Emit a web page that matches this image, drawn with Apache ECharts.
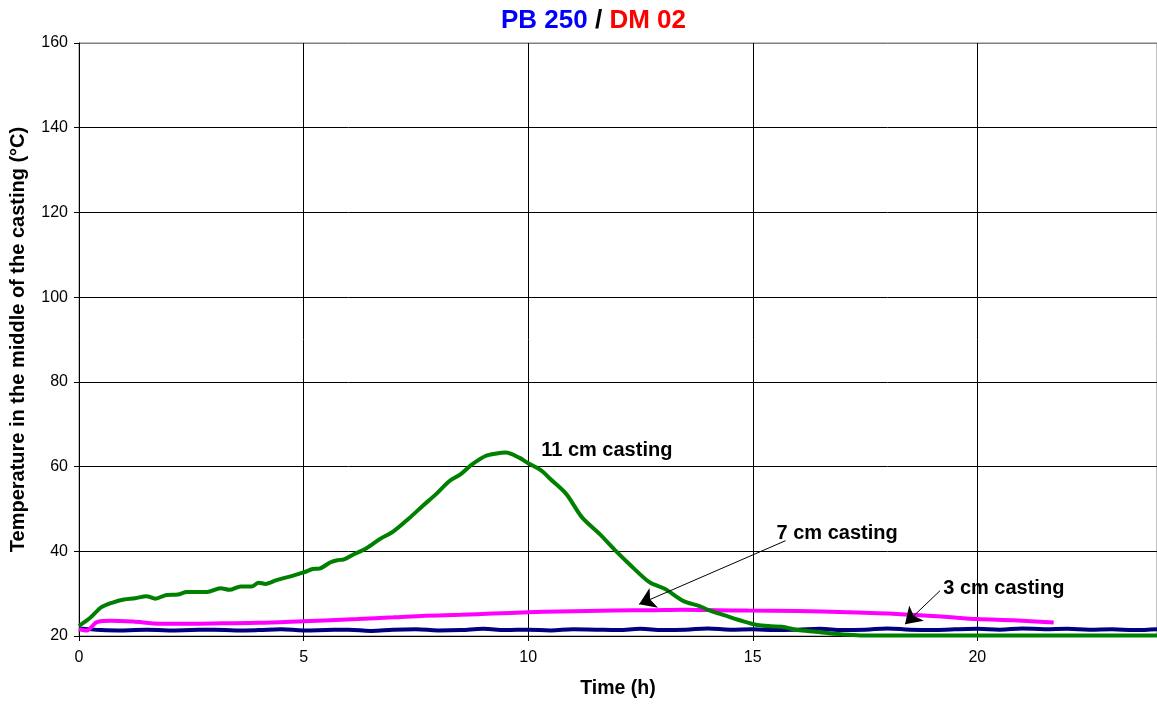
<!DOCTYPE html>
<html>
<head>
<meta charset="utf-8">
<style>
    html, body { margin: 0; padding: 0; background: #fff; }
    #main { width: 1157px; height: 704px; }
</style>
<script src="https://cdn.jsdelivr.net/npm/echarts@6/dist/echarts.min.js"></script>
</head>
<body>
<div id="main"></div>
<script>
    // 11 cm casting  [time h, temperature °C]
    var green11 = [
        [0, 22.4], [0.25, 24.3], [0.5, 26.8], [0.75, 27.9], [1.0, 28.6], [1.25, 28.9], [1.5, 29.4],
        [1.7, 28.8], [1.95, 29.7], [2.2, 29.8], [2.4, 30.4], [2.85, 30.4], [3.15, 31.3], [3.35, 30.9],
        [3.6, 31.7], [3.85, 31.7], [4.0, 32.6], [4.15, 32.3], [4.4, 33.2], [4.75, 34.2], [5.0, 35.0],
        [5.2, 35.8], [5.35, 35.9], [5.6, 37.4], [5.75, 37.9], [5.9, 38.1], [6.1, 39.2], [6.4, 40.7],
        [6.7, 42.9], [7.0, 44.7], [7.35, 47.8], [7.65, 50.7], [7.95, 53.5], [8.25, 56.6], [8.5, 58.2],
        [8.75, 60.5], [9.05, 62.5], [9.3, 63.1], [9.5, 63.3], [9.8, 62.1], [10.0, 60.8], [10.3, 59.0],
        [10.5, 57.0], [10.85, 53.5], [11.2, 48.0], [11.6, 44.0], [11.95, 40.1], [12.25, 37.0],
        [12.7, 32.7], [13.05, 31.1], [13.45, 28.3], [13.8, 27.1], [14.05, 26.0], [14.4, 24.8],
        [14.75, 23.6], [15.1, 22.6], [15.4, 22.3], [15.65, 22.2], [16.0, 21.4], [16.4, 21.0], [16.75, 20.6],
        [17.15, 20.3], [17.5, 20.1], [18, 20.1], [19, 20.1], [20, 20.1], [21, 20.1], [22, 20.1],
        [23, 20.1], [24, 20.1]
    ];
    // 7 cm casting
    var pink7 = [
        [0, 21.6], [0.17, 21.3], [0.4, 23.3], [0.7, 23.6], [1.2, 23.4], [1.8, 22.9], [2.5, 22.9],
        [3.2, 23.0], [4.0, 23.1], [5.0, 23.5], [6.2, 24.0], [7.0, 24.4], [7.7, 24.8], [8.5, 25.0],
        [9.2, 25.3], [10.0, 25.6], [10.7, 25.8], [11.9, 26.0], [12.8, 26.1], [13.4, 26.2], [14.2, 26.1],
        [14.9, 26.0], [16.0, 25.9], [17.1, 25.6], [18.2, 25.2], [19.2, 24.6], [20.0, 24.0],
        [20.8, 23.7], [21.7, 23.2]
    ];
    // 3 cm casting
    var navyHours = [0, 0.5, 1, 1.5, 2, 2.5, 3, 3.5, 4, 4.5, 5, 5.5, 6, 6.5, 7, 7.5, 8, 8.5, 9, 9.5,
        10, 10.5, 11, 11.5, 12, 12.5, 13, 13.5, 14, 14.5, 15, 15.5, 16, 16.5, 17, 17.5, 18, 18.5,
        19, 19.5, 20, 20.5, 21, 21.5, 22, 22.5, 23, 23.5, 24];
    var navyTemp = [21.8, 21.4, 21.3, 21.5, 21.3, 21.4, 21.5, 21.3, 21.4, 21.6,
        21.3, 21.4, 21.5, 21.2, 21.5, 21.6, 21.3, 21.4, 21.7, 21.4,
        21.5, 21.3, 21.6, 21.5, 21.4, 21.7, 21.4, 21.5, 21.8, 21.5,
        21.6, 21.4, 21.5, 21.7, 21.4, 21.5, 21.8, 21.5, 21.4, 21.6,
        21.7, 21.5, 21.8, 21.6, 21.7, 21.5, 21.6, 21.4, 21.6];

    var labelFont = 'Liberation Sans, Arial, sans-serif';
    var navy3 = navyHours.map(function (h, i) { return [h, navyTemp[i]]; });

    var arrowStyle = {
        symbol: ['none', 'arrow'],
        symbolSize: 16,
        silent: true,
        label: { show: false },
        lineStyle: { color: '#000', width: 1, type: 'solid' }
    };
    var noteLabel = {
        show: true, position: 'right', distance: 0,
        color: '#000', fontSize: 20, fontWeight: 'bold', fontFamily: labelFont
    };

    var chart = echarts.init(document.getElementById('main'));
    var option = {
        animation: false,
        backgroundColor: '#fff',
        title: {
            text: '{a|PB 250 }{b|/}{c| DM 02}',
            left: 496,
            top: 3,
            textStyle: {
                fontFamily: labelFont,
                rich: {
                    a: { color: '#0000ff', fontSize: 26, fontWeight: 'bold', fontFamily: labelFont },
                    b: { color: '#000', fontSize: 26, fontWeight: 'bold', fontFamily: labelFont },
                    c: { color: '#ff0000', fontSize: 26, fontWeight: 'bold', fontFamily: labelFont }
                }
            }
        },
        grid: {
            left: 79, top: 43, width: 1080, height: 594,
            show: true, borderColor: '#808080', borderWidth: 1
        },
        xAxis: {
            type: 'value', min: 0, max: 24, interval: 5,
            name: 'Time (h)', nameLocation: 'middle', nameGap: 43,
            nameTextStyle: { color: '#000', fontSize: 19.5, fontWeight: 'bold', fontFamily: labelFont },
            axisLine: { lineStyle: { color: '#000', width: 1 } },
            axisTick: { show: true, length: 5, lineStyle: { color: '#000' } },
            axisLabel: { color: '#000', fontSize: 16, fontFamily: labelFont, margin: 14, showMaxLabel: false },
            splitLine: { show: true, lineStyle: { color: '#000', width: 1 } }
        },
        yAxis: {
            type: 'value', min: 20, max: 160, interval: 20,
            name: 'Temperature in the middle of the casting (°C)', nameLocation: 'middle', nameGap: 51,
            nameTextStyle: { color: '#000', fontSize: 20, fontWeight: 'bold', fontFamily: labelFont },
            axisLine: { show: true, lineStyle: { color: '#000', width: 1 } },
            axisTick: { show: true, length: 5, lineStyle: { color: '#000' } },
            axisLabel: { color: '#000', fontSize: 16, fontFamily: labelFont, margin: 11 },
            splitLine: {
                show: true,
                lineStyle: { color: ['#000', '#000', '#000', '#000', '#000', '#000', '#000', '#808080'], width: 1 }
            }
        },
        series: [
            {
                name: '3 cm casting', type: 'line', data: navy3, smooth: 0.4,
                showSymbol: false, lineStyle: { color: '#000080', width: 4 },
                markLine: Object.assign({
                    data: [[{ coord: [19.17, 30.7] }, { coord: [18.39, 22.8] }]]
                }, arrowStyle),
                markPoint: {
                    symbol: 'circle', symbolSize: 0, silent: true,
                    label: noteLabel,
                    data: [{ coord: [19.24, 31.3], label: { formatter: '3 cm casting' } }]
                }
            },
            {
                name: '7 cm casting', type: 'line', data: pink7, smooth: 0.3,
                showSymbol: false, lineStyle: { color: '#ff00ff', width: 4 },
                markLine: Object.assign({
                    data: [[{ coord: [15.73, 42.5] }, { coord: [12.47, 27.5] }]]
                }, arrowStyle),
                markPoint: {
                    symbol: 'circle', symbolSize: 0, silent: true,
                    label: noteLabel,
                    data: [{ coord: [15.53, 44.3], label: { formatter: '7 cm casting' } }]
                }
            },
            {
                name: '11 cm casting', type: 'line', data: green11, smooth: 0.3,
                showSymbol: false, lineStyle: { color: '#008000', width: 4 },
                markPoint: {
                    symbol: 'circle', symbolSize: 0, silent: true,
                    label: noteLabel,
                    data: [{ coord: [10.29, 63.8], label: { formatter: '11 cm casting' } }]
                }
            }
        ]
    };
    chart.setOption(option);
</script>
</body>
</html>
